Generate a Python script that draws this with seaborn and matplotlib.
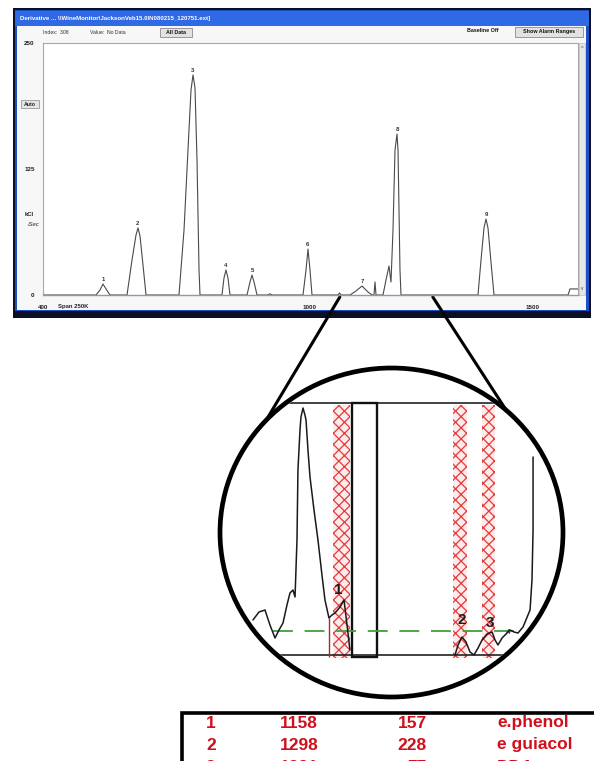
import numpy as np
import pandas as pd
import matplotlib
matplotlib.use("Agg")
import matplotlib.pyplot as plt
import seaborn as sns
from matplotlib.patches import Rectangle, Ellipse, ConnectionPatch

# ---------------- data ----------------
# main derivative chromatogram (retention index, signal kCl/Sec)
MAIN_RI = [400, 519.1, 528.1, 534.8, 541.6, 550.6,
           588.8, 600.0, 609.0, 613.5, 618.0, 624.7, 631.5,
           705.6, 716.9, 725.8, 732.6, 737.1, 741.6, 746.1, 750.6, 752.8,
           802.2, 806.7, 811.2, 815.7, 820.2,
           858.4, 865.2, 869.7, 874.2, 881.0,
           905.0, 910.0, 915.0,
           984.3, 991.0, 995.5, 1000.0, 1004.5,
           1063.6, 1066.0, 1070.0,
           1089.9, 1103.4, 1116.9, 1130.3, 1139.3,
           1143.8, 1146.1, 1148.3,
           1164.0, 1170.8, 1177.5, 1182.0, 1186.5, 1191.0, 1195.5, 1197.8, 1202.2, 1204.5,
           1377.5, 1384.3, 1391.0, 1395.5, 1400.0, 1406.7, 1413.5,
           1579.8, 1584.3, 1602.0]
MAIN_SIGNAL = [0, 0, 5.0, 10.9, 6.0, 0,
               0, 34.7, 59.5, 66.5, 58.5, 29.8, 0,
               0, 64.5, 143.8, 203.4, 218.3, 205.4, 133.9, 24.8, 0,
               0, 16.9, 24.8, 16.9, 0,
               0, 12.9, 19.8, 12.9, 0,
               0, 1.2, 0,
               0, 24.8, 45.6, 24.8, 0,
               0, 2.0, 0,
               0, 4.0, 8.9, 3.0, 0,
               0, 12.9, 0,
               0, 14.9, 28.8, 12.9, 64.5, 143.8, 159.7, 143.8, 24.8, 0,
               0, 34.7, 66.5, 75.4, 66.5, 32.7, 0,
               0, 6.0, 6.0]
PEAK_IDS = ["1", "2", "3", "4", "5", "6", "7", "8", "9"]
PEAK_RI = [534.8, 613.5, 737.1, 811.2, 869.7, 995.5, 1116.9, 1195.5, 1395.5]
PEAK_SIGNAL = [10.9, 66.5, 218.3, 24.8, 19.8, 45.6, 8.9, 159.7, 75.4]
X_TICKS = [400, 1000, 1500]
Y_TICKS = [0, 125, 250]
ZOOM_WINDOW = (1067, 1276)

# magnified trace shown in the circle
ZOOM_RI_A = [1062.0, 1068.8, 1075.6, 1081.2, 1086.9, 1091.4, 1095.9, 1100.4, 1103.8,
             1107.2, 1109.5, 1111.7, 1112.8, 1115.1, 1116.2, 1118.5, 1120.7, 1121.9,
             1124.1, 1126.4, 1130.9, 1135.4, 1139.9, 1143.3, 1147.8, 1151.2, 1154.6,
             1160.3, 1164.8, 1168.2, 1171.5]
ZOOM_SIG_A = [35, 43, 45, 30, 17, 25, 32, 50, 62,
              65, 58, 115, 185, 225, 238, 247, 240, 235,
              205, 178, 145, 115, 80, 55, 37, 40, 42,
              48, 55, 30, 5]
ZOOM_RI_B = [1290.1, 1293.5, 1298.0, 1302.5, 1307.0, 1311.5, 1316.1, 1320.6, 1326.2,
             1331.9, 1335.3, 1338.6, 1343.2, 1347.7, 1352.2, 1356.7, 1361.2, 1366.9,
             1374.8, 1377.0, 1378.2, 1378.2]
ZOOM_SIG_B = [0, 10, 18, 13, 3, 0, 7, 15, 21,
              23, 15, 10, 17, 21, 25, 23, 22, 28,
              45, 75, 125, 198]
ZOOM_LABEL_IDS = ["1", "2", "3"]
ZOOM_LABEL_RI = [1158, 1298, 1330]
ZOOM_LABEL_SIG = [65, 35, 32]
ALARM_BANDS = [(1152.4, 1171.5), (1287.8, 1303.6), (1320.6, 1335.3)]
INNER_BOX = (1173.8, 1202.0)
CUT_RI = 1147.8
BASELINE_LEVEL = 24
BASELINE_RANGE = (1084.6, 1363.5)

# peak table
TABLE_IDS = ["1", "2", "3"]
TABLE_RI = ["1158", "1298", "1331"]
TABLE_AREA = ["157", "228", "77"]
TABLE_NAMES = ["e.phenol", "e guiacol", "DDA"]

# ---------------- figure ----------------
sns.set_style("white")
plt.rcParams['font.family'] = ['Liberation Sans', 'DejaVu Sans']
plt.rcParams['hatch.linewidth'] = 0.9

W, H = 594, 761
fig = plt.figure(figsize=(W / 100, H / 100), dpi=100)
fig.patch.set_facecolor("white")


def fbox(x0, y0, x1, y1):
    return [x0 / W, 1 - y1 / H, (x1 - x0) / W, (y1 - y0) / H]


# background (window chrome, table)
bg = fig.add_axes([0, 0, 1, 1], zorder=0)
bg.set_xlim(0, W)
bg.set_ylim(H, 0)
bg.axis("off")

bg.add_patch(Rectangle((13, 8), 578, 310, fc="#0b0f24", ec="none"))
bg.add_patch(Rectangle((15, 10), 574, 301, fc="#1d4fc4", ec="none"))
bg.add_patch(Rectangle((15, 11), 574, 15, fc="#2f6ae4", ec="none"))
bg.add_patch(Rectangle((17, 26), 569, 284, fc="#f7f7f7", ec="none"))
bg.text(20, 18.5, "Derivative ... \\\\WineMonitor\\JacksonVeb15.0IN080215_120751.ext]",
        color="white", fontsize=4.4, fontweight="bold", va="center", ha="left")
bg.text(43, 32, "Index:  308", fontsize=3.7, va="center", color="#333")
bg.text(90, 32, "Value:  No Data", fontsize=3.7, va="center", color="#333")
bg.add_patch(Rectangle((160, 28), 32, 9, fc="#e2e2e2", ec="#777", lw=0.5))
bg.text(176, 32.5, "All Data", fontsize=3.9, va="center", ha="center",
        fontweight="bold", color="#111")
bg.text(467, 31, "Baseline Off", fontsize=3.9, va="center", ha="left",
        fontweight="bold", color="#111")
bg.add_patch(Rectangle((515, 27), 68, 10, fc="#e2e2e2", ec="#777", lw=0.5))
bg.text(549, 32, "Show Alarm Ranges", fontsize=3.9, va="center", ha="center",
        fontweight="bold", color="#111")
bg.add_patch(Rectangle((21, 100), 18, 8, fc="#e4e4e4", ec="#888", lw=0.5))
bg.text(30, 104, "Auto", fontsize=3.8, va="center", ha="center", fontweight="bold", color="#222")
bg.text(29, 215, "kCl", fontsize=4.2, va="center", ha="center", fontweight="bold", color="#222")
bg.text(33, 225, "/Sec", fontsize=4.2, va="center", ha="center", style="italic", color="#222")
bg.add_patch(Rectangle((579, 43), 6, 252, fc="#e6e6e6", ec="#b0b0b0", lw=0.4))
bg.text(582, 48, "^", fontsize=4, ha="center", va="center", color="#444")
bg.text(582, 289, "v", fontsize=3.5, ha="center", va="center", color="#444")

# table (its third row is cut by the picture edge, as in the reference)
bg.add_patch(Rectangle((182, 713), 440, 80, fc="white", ec="black", lw=2.6))
red = "#d0101c"
for i in range(len(TABLE_IDS)):
    y = 723 + 22 * i
    kw = dict(color=red, fontsize=12.5, fontweight="bold", va="center")
    bg.text(206, y, TABLE_IDS[i], ha="left", **kw)
    bg.text(280, y, TABLE_RI[i], ha="left", **kw)
    bg.text(427, y, TABLE_AREA[i], ha="right", **kw)
    bg.text(497, y, TABLE_NAMES[i], ha="left", **kw)

# ---------------- main chromatogram ----------------
ax = fig.add_axes(fbox(43, 43, 578, 295), zorder=2)
ax.set_facecolor("white")
main_df = pd.DataFrame({"ri": MAIN_RI, "signal": MAIN_SIGNAL})
sns.lineplot(data=main_df, x="ri", y="signal", ax=ax, color="#4a4a4a", lw=0.8,
             sort=False, estimator=None)
ax.set_xlim(400, 400 + 535 / 0.445)
ax.set_ylim(0, 250)
ax.set_xlabel("")
ax.set_ylabel("")
ax.set_xticks(X_TICKS)
ax.set_xticklabels([str(t) for t in X_TICKS])
ax.set_yticks(Y_TICKS)
ax.set_yticklabels([str(t) for t in Y_TICKS])
ax.tick_params(axis="both", length=0, labelsize=4.5, labelcolor="#222")
ax.tick_params(axis="x", pad=7)
ax.tick_params(axis="y", pad=6)
for lab in ax.get_xticklabels() + ax.get_yticklabels():
    lab.set_fontweight("bold")
for s in ["top", "left", "right"]:
    ax.spines[s].set_color("#a8a8a8")
    ax.spines[s].set_linewidth(0.8)
ax.spines["bottom"].set_color("#9d92ae")
ax.spines["bottom"].set_linewidth(1.0)
for pid, px, py in zip(PEAK_IDS, PEAK_RI, PEAK_SIGNAL):
    ax.annotate(pid, (px, py), xytext=(0, 1.2), textcoords="offset points",
                ha="center", va="bottom", fontsize=4.3, fontweight="bold", color="#333")
ax.text(434, -0.044, "Span 250K", transform=ax.get_xaxis_transform(),
        fontsize=4.3, fontweight="bold", color="#223", va="center", ha="left")

# ---------------- magnified circle ----------------
zax = fig.add_axes(fbox(220, 368, 563, 697), zorder=3)
zax.set_facecolor("none")
zax.axis("off")

zax.add_patch(Ellipse((0.5, 0.5), 1, 1, transform=zax.transAxes, fc="white",
                      ec="none", zorder=0))
clip = Ellipse((0.5, 0.5), 0.985, 0.985, transform=zax.transAxes)

arts = []
for a, b in ALARM_BANDS:
    arts.append(zax.fill_betweenx([-3, 250], a, b, facecolor="#fdeaea",
                                  edgecolor="#e23c3c", hatch="xxx", lw=0, zorder=2))
arts.append(zax.axhline(252, color="#222", lw=1.2, zorder=4))
arts.append(zax.axhline(0, color="#222", lw=1.2, zorder=4))
box = Rectangle((INNER_BOX[0], -2), INNER_BOX[1] - INNER_BOX[0], 254, fill=False,
                ec="#111", lw=1.7, zorder=4)
zax.add_patch(box)
arts.append(box)
arts.append(zax.vlines([CUT_RI], -2, 37, color="#b02828", lw=1.0, zorder=4))
arts.append(zax.hlines([BASELINE_LEVEL], BASELINE_RANGE[0], BASELINE_RANGE[1],
                       color="#3f9f3f", lw=1.3, linestyles=(0, (11, 6.5)), zorder=5))
n0 = len(zax.lines)
sns.lineplot(x=ZOOM_RI_A, y=ZOOM_SIG_A, ax=zax, color="#1a1a1a", lw=1.1,
             sort=False, estimator=None, zorder=6)
sns.lineplot(x=ZOOM_RI_B, y=ZOOM_SIG_B, ax=zax, color="#1a1a1a", lw=1.1,
             sort=False, estimator=None, zorder=6)
arts.extend(zax.lines[n0:])
zax.set_xlim(1024.8, 1412.0)
zax.set_ylim(-42, 287)
for lid, lx, ly in zip(ZOOM_LABEL_IDS, ZOOM_LABEL_RI, ZOOM_LABEL_SIG):
    zax.text(lx, ly, lid, fontsize=11, ha="center", va="center", color="#1a1a1a",
             fontweight="bold", zorder=7)
zax.text(1350, 22, "4", fontsize=6, ha="center", va="center", color="#222", zorder=7)
for a in arts:
    a.set_clip_path(clip)

zax.add_patch(Ellipse((0.5, 0.5), 1, 1, transform=zax.transAxes, fill=False,
                      ec="black", lw=3.4, clip_on=False, zorder=10))

# connector lines from the magnified x-range to the circle
for x0, ang in zip(ZOOM_WINDOW, (137, 48)):
    t = np.deg2rad(ang)
    cp = ConnectionPatch(xyA=(x0, -2), coordsA=ax.transData,
                         xyB=(0.5 + 0.5 * np.cos(t), 0.5 + 0.5 * np.sin(t)),
                         coordsB=zax.transAxes, color="black", lw=2.2)
    fig.add_artist(cp)

fig.savefig("out.png", dpi=100)
